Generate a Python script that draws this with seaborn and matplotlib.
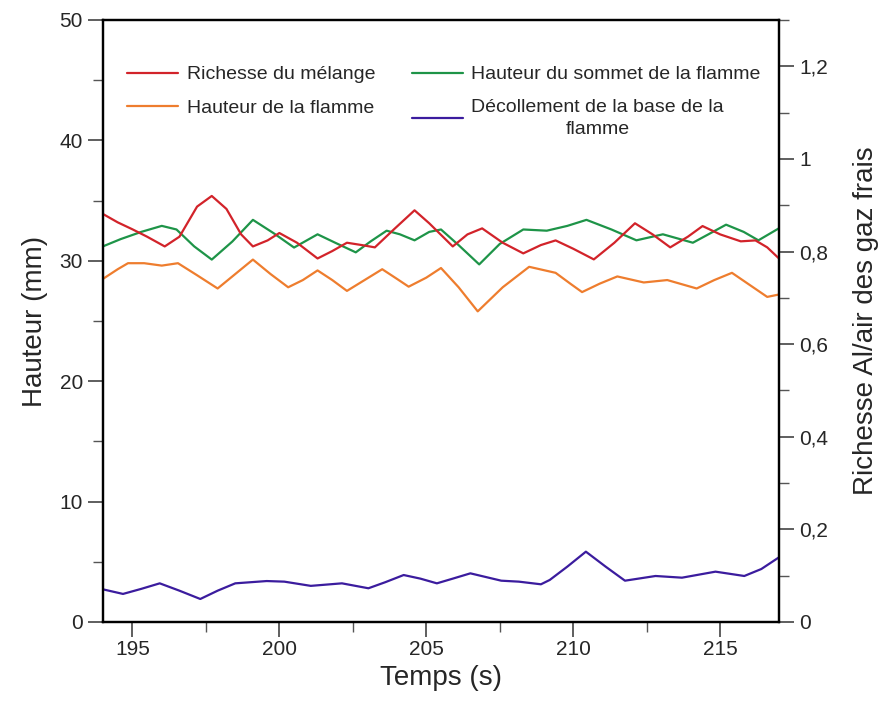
import numpy as np
import pandas as pd
import matplotlib
matplotlib.use("Agg")
import matplotlib.pyplot as plt
import seaborn as sns
from matplotlib.ticker import MultipleLocator, FuncFormatter
from matplotlib.lines import Line2D

# Richesse du mélange (right axis)
t_red = [194.0, 194.5, 195.0, 195.5, 196.1, 196.6, 197.2, 197.7, 198.2, 198.7, 199.1, 199.6,
         200.0, 200.6, 201.3, 201.8, 202.3, 202.8, 203.25, 203.9, 204.6, 205.1, 205.9, 206.4,
         206.9, 207.6, 208.3, 208.9, 209.4, 210.0, 210.7, 211.4, 212.1, 212.7, 213.3, 213.9,
         214.4, 215.0, 215.7, 216.2, 216.6, 217.0]
richesse = [0.881, 0.863, 0.848, 0.832, 0.811, 0.832, 0.897, 0.920, 0.892, 0.837, 0.811, 0.824,
            0.840, 0.819, 0.785, 0.801, 0.819, 0.814, 0.809, 0.848, 0.889, 0.861, 0.811, 0.837,
            0.850, 0.819, 0.796, 0.814, 0.824, 0.806, 0.783, 0.819, 0.861, 0.837, 0.809, 0.832,
            0.855, 0.837, 0.822, 0.824, 0.809, 0.785]

# Hauteur du sommet de la flamme (mm)
t_green = [194.0, 194.6, 195.3, 196.0, 196.5, 197.1, 197.7, 198.4, 199.1, 199.8, 200.5, 201.3,
           201.9, 202.6, 203.1, 203.65, 204.1, 204.6, 205.1, 205.5, 206.1, 206.8, 207.5, 208.3,
           209.1, 209.8, 210.45, 211.3, 212.15, 213.05, 214.07, 214.6, 215.2, 215.8, 216.3, 217.0]
sommet = [31.2, 31.8, 32.4, 32.9, 32.6, 31.2, 30.1, 31.6, 33.4, 32.3, 31.1, 32.2,
          31.5, 30.7, 31.6, 32.5, 32.2, 31.7, 32.4, 32.6, 31.3, 29.7, 31.4, 32.6,
          32.5, 32.9, 33.4, 32.6, 31.7, 32.2, 31.5, 32.2, 33.0, 32.4, 31.7, 32.7]

# Hauteur de la flamme (mm)
t_orange = [194.0, 194.5, 194.85, 195.4, 196.0, 196.55, 197.2, 197.9, 198.5, 199.1, 199.7, 200.3,
            200.8, 201.3, 201.8, 202.3, 202.9, 203.5, 204.0, 204.4, 205.0, 205.5, 206.1, 206.75,
            207.6, 208.5, 209.4, 209.9, 210.3, 210.9, 211.5, 212.4, 213.2, 214.2, 214.8, 215.4,
            216.0, 216.6, 217.0]
hauteur = [28.5, 29.3, 29.8, 29.8, 29.6, 29.8, 28.8, 27.7, 28.9, 30.1, 28.9, 27.8,
           28.4, 29.2, 28.4, 27.5, 28.4, 29.3, 28.5, 27.85, 28.6, 29.4, 27.8, 25.8,
           27.8, 29.5, 29.0, 28.1, 27.4, 28.1, 28.7, 28.2, 28.4, 27.7, 28.4, 29.0,
           28.0, 27.0, 27.2]

# Décollement de la base de la flamme (mm)
t_purple = [194.0, 194.68, 195.3, 195.93, 196.6, 197.31, 197.9, 198.5, 199.57, 200.17, 201.07,
            202.13, 203.03, 203.6, 204.23, 204.8, 205.36, 205.9, 206.5, 207.55, 208.15, 208.9,
            209.2, 209.8, 210.43, 211.1, 211.76, 212.8, 213.7, 214.84, 215.82, 216.4, 217.0]
decollement = [2.71, 2.33, 2.75, 3.21, 2.6, 1.91, 2.6, 3.21, 3.4, 3.35, 3.0,
               3.21, 2.8, 3.3, 3.9, 3.6, 3.21, 3.6, 4.04, 3.43, 3.35, 3.13,
               3.49, 4.6, 5.84, 4.6, 3.43, 3.82, 3.68, 4.18, 3.82, 4.4, 5.37]

c_red = "#D2232A"
c_green = "#1E9448"
c_orange = "#EE7D2E"
c_purple = "#3B1C9E"

sns.set_style("ticks")
plt.rcParams["font.family"] = ["Liberation Sans", "DejaVu Sans"]

fig = plt.figure(figsize=(8.79, 7.04), dpi=100)
ax = fig.add_axes([0.1172, 0.1165, 0.769, 0.8551])
ax2 = ax.twinx()

line_kw = dict(lw=1.6, solid_joinstyle="round", solid_capstyle="round")
sns.lineplot(x=t_orange, y=hauteur, ax=ax, color=c_orange, **line_kw)
sns.lineplot(x=t_green, y=sommet, ax=ax, color=c_green, **line_kw)
sns.lineplot(x=t_purple, y=decollement, ax=ax, color=c_purple, **line_kw)
sns.lineplot(x=t_red, y=richesse, ax=ax2, color=c_red, **line_kw)

ax.set_xlim(194, 217)
ax.set_ylim(0, 50)
ax2.set_ylim(0, 1.3)

ax.xaxis.set_major_locator(MultipleLocator(5))
ax.xaxis.set_minor_locator(MultipleLocator(2.5))
ax.yaxis.set_major_locator(MultipleLocator(10))
ax.yaxis.set_minor_locator(MultipleLocator(5))
ax2.yaxis.set_major_locator(MultipleLocator(0.2))
ax2.yaxis.set_minor_locator(MultipleLocator(0.1))
ax2.yaxis.set_major_formatter(FuncFormatter(lambda v, p: f"{v:g}".replace(".", ",")))

for a in (ax, ax2):
    for s in a.spines.values():
        s.set_linewidth(1.6)
        s.set_color("black")
    a.tick_params(which="major", length=11, width=1.1, labelsize=15, color="#333333")
    a.tick_params(which="minor", length=7, width=1.0, color="#555555")

ax.tick_params(axis="x", which="major", pad=2)
ax.tick_params(axis="y", which="both", left=True, right=False)
ax2.tick_params(axis="y", which="both", left=False, right=True)

ax.set_xlabel("Temps (s)", fontsize=20, labelpad=4)
ax.set_ylabel("Hauteur (mm)", fontsize=20, labelpad=8)
ax2.set_ylabel("Richesse Al/air des gaz frais", fontsize=20, labelpad=18)

handles = [
    Line2D([], [], color=c_red, lw=1.6),
    Line2D([], [], color=c_orange, lw=1.6),
    Line2D([], [], color=c_green, lw=1.6),
    Line2D([], [], color=c_purple, lw=1.6),
]
labels = [
    "Richesse du mélange",
    "Hauteur de la flamme",
    "Hauteur du sommet de la flamme",
    "Décollement de la base de la\nflamme",
]
leg = ax2.legend(handles, labels, loc="upper left", bbox_to_anchor=(0.01, 0.953),
                 ncol=2, frameon=False, fontsize=14, handlelength=2.6,
                 handletextpad=0.45, columnspacing=1.9, labelspacing=0.8)
for t in leg.get_texts():
    t.set_multialignment("center")
    t.set_linespacing(1.35)

fig.savefig("out.png", dpi=100)
